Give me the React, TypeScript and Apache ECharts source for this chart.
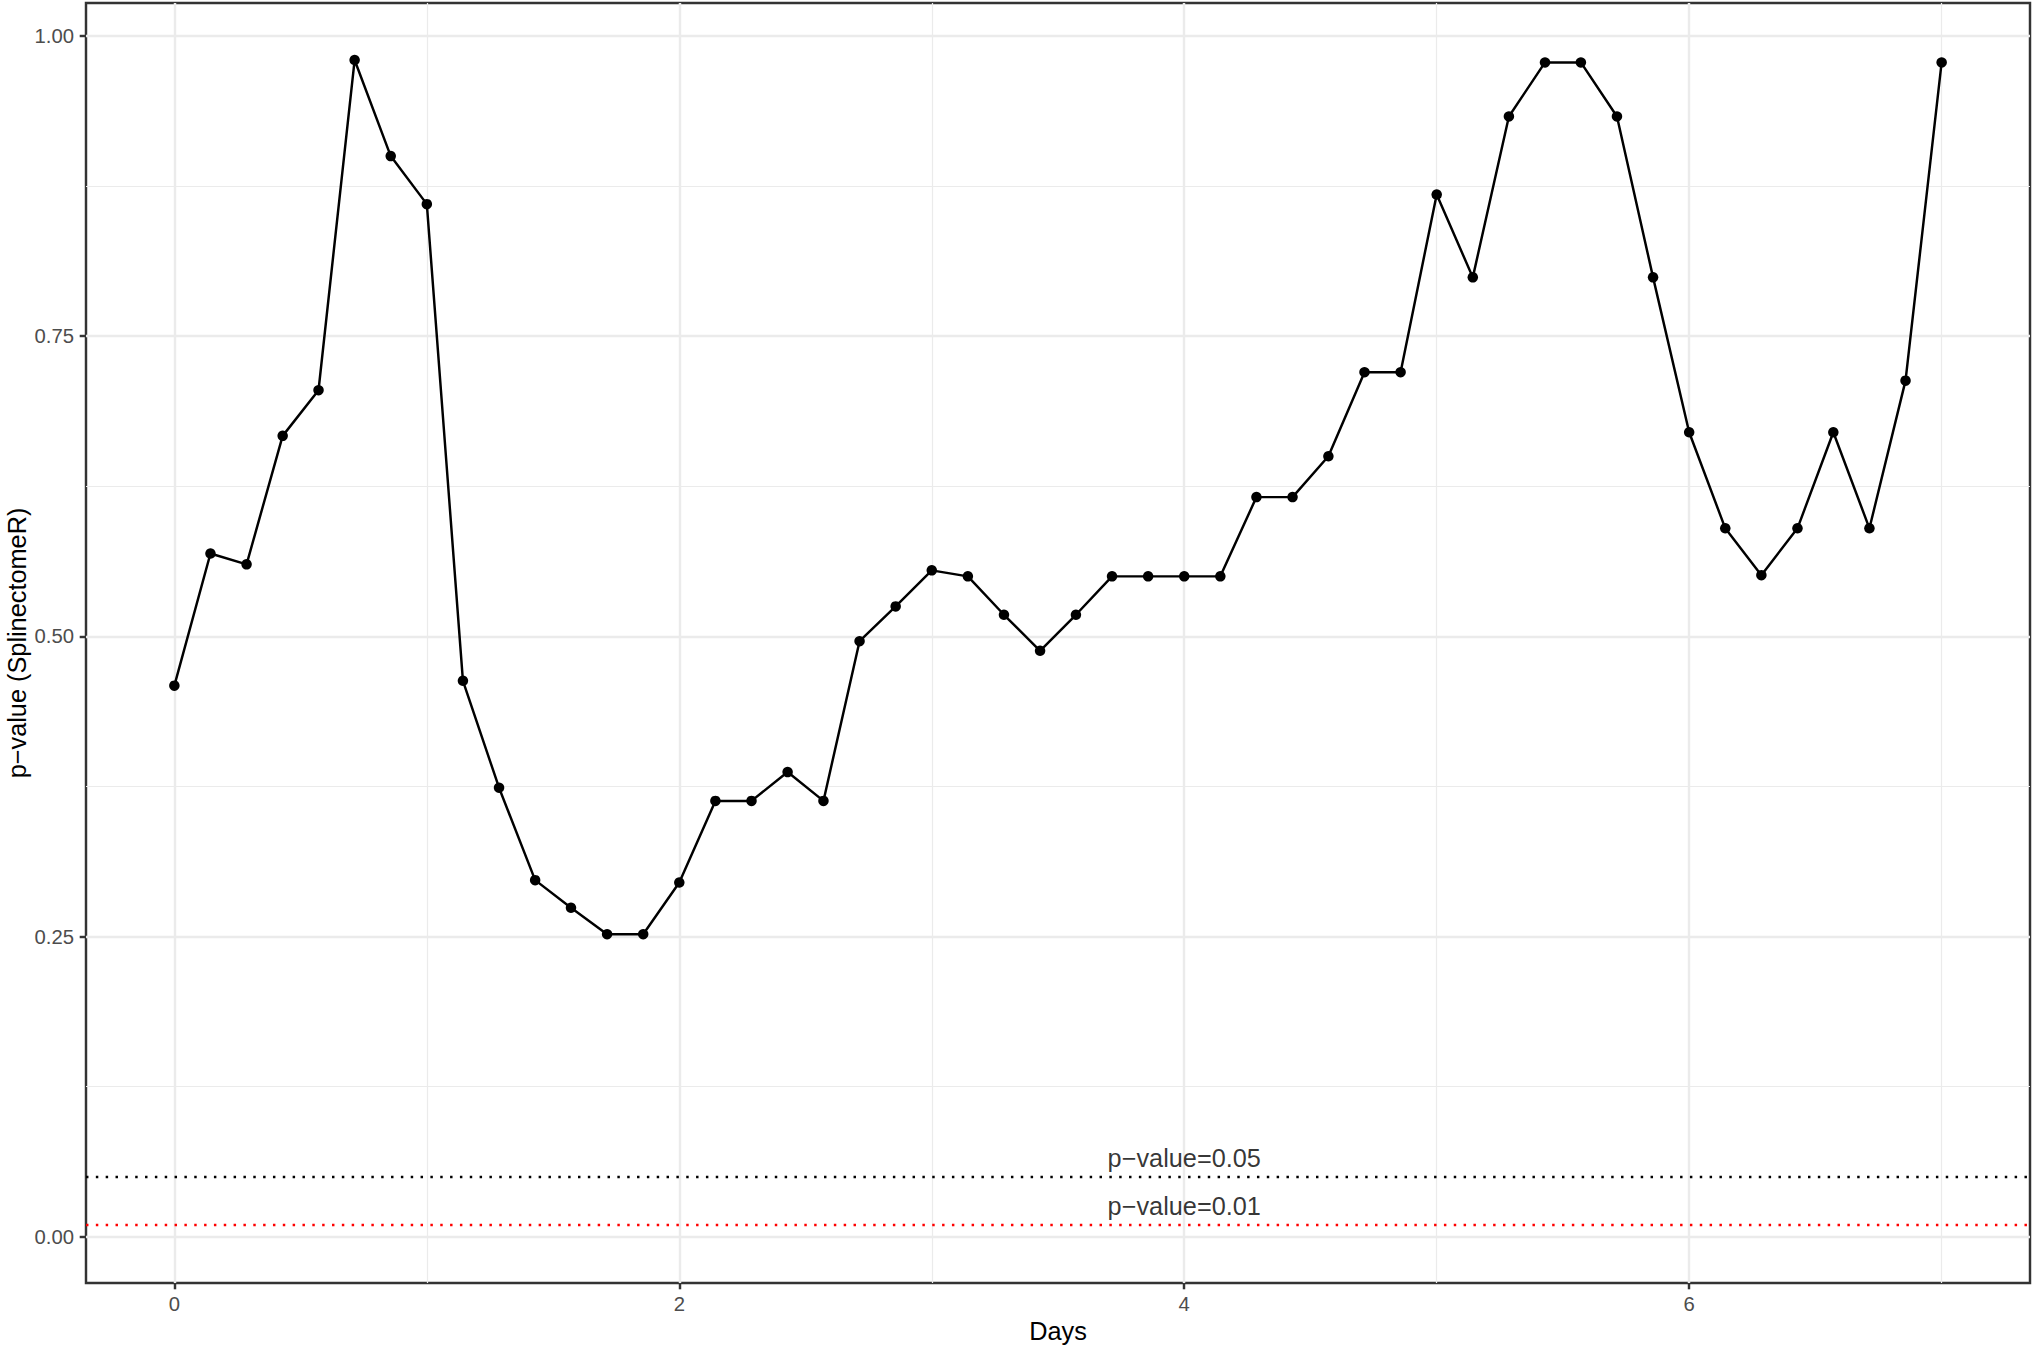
import React, { useEffect, useRef } from "react";
import * as echarts from "echarts";

// ---- data ----
const days: number[] = [
  0, 0.143, 0.286, 0.429, 0.571, 0.714, 0.857,
  1, 1.143, 1.286, 1.429, 1.571, 1.714, 1.857,
  2, 2.143, 2.286, 2.429, 2.571, 2.714, 2.857,
  3, 3.143, 3.286, 3.429, 3.571, 3.714, 3.857,
  4, 4.143, 4.286, 4.429, 4.571, 4.714, 4.857,
  5, 5.143, 5.286, 5.429, 5.571, 5.714, 5.857,
  6, 6.143, 6.286, 6.429, 6.571, 6.714, 6.857,
  7,
];
const pValues: number[] = [
  0.459, 0.569, 0.56, 0.667, 0.705, 0.98, 0.9, 0.86, 0.463, 0.374,
  0.297, 0.274, 0.252, 0.252, 0.295, 0.363, 0.363, 0.387, 0.363, 0.496,
  0.525, 0.555, 0.55, 0.518, 0.488, 0.518, 0.55, 0.55, 0.55, 0.55,
  0.616, 0.616, 0.65, 0.72, 0.72, 0.868, 0.799, 0.933, 0.978, 0.978,
  0.933, 0.799, 0.67, 0.59, 0.551, 0.59, 0.67, 0.59, 0.713, 0.978,
];
const thresholds: number[] = [0.05, 0.01];
const thresholdColors: string[] = ["#000000", "#FF0000"];
const thresholdLabels: string[] = ["p\u2212value=0.05", "p\u2212value=0.01"];
const thresholdLabelDay = 4;

const xMajorTicks: number[] = [0, 2, 4, 6];
const xMinorTicks: number[] = [1, 3, 5, 7];
const yMajorTicks: number[] = [0, 0.25, 0.5, 0.75, 1];
const yMinorTicks: number[] = [0.125, 0.375, 0.625, 0.875];

const xName = "Days";
const yName = "p\u2212value (SplinectomeR)";

const FONT = "'Liberation Sans', Arimo, Helvetica, Arial, sans-serif";
const LW = 2.46;

export default function App() {
  const ref = useRef<HTMLDivElement | null>(null);

  useEffect(() => {
    document.body.style.margin = "0";
    if (!ref.current) return;
    const chart = echarts.init(ref.current, undefined, { renderer: "svg" });

    const xMin = -0.35;
    const xMax = 7.35;
    const yMin = -0.0385;
    const yMax = 1.0275;

    const baseX = {
      type: "value" as const,
      min: xMin,
      max: xMax,
      gridIndex: 0,
    };
    const baseY = {
      type: "value" as const,
      min: yMin,
      max: yMax,
      gridIndex: 0,
    };

    const option: any = {
      animation: false,
      backgroundColor: "#FFFFFF",
      grid: {
        left: 86,
        right: 2,
        top: 3,
        bottom: 64,
        containLabel: false,
        outerBoundsMode: "none",
        show: true,
        backgroundColor: "transparent",
        borderColor: "#333333",
        borderWidth: LW,
      },
      xAxis: [
        {
          ...baseX,
          position: "bottom",
          axisLine: { show: false, onZero: false },
          axisTick: {
            show: true,
            customValues: xMajorTicks,
            length: 6.3,
            lineStyle: { color: "#333333", width: LW },
          },
          axisLabel: {
            show: true,
            customValues: xMajorTicks,
            margin: 11,
            color: "#4D4D4D",
            fontSize: 20.3,
            fontFamily: FONT,
            formatter: (v: number) => String(v),
          },
          splitLine: { show: true, lineStyle: { color: "#EBEBEB", width: LW } },
          name: xName,
          nameLocation: "middle",
          nameGap: 35,
          nameMoveOverlap: false,
          nameTextStyle: { color: "#000000", fontSize: 25.3, fontFamily: FONT },
        },
        {
          ...baseX,
          position: "bottom",
          axisLine: { show: false, onZero: false },
          axisTick: { show: false, customValues: xMinorTicks },
          axisLabel: { show: false, customValues: xMinorTicks },
          splitLine: { show: true, lineStyle: { color: "#EBEBEB", width: LW / 2 } },
        },
      ],
      yAxis: [
        {
          ...baseY,
          position: "left",
          axisLine: { show: false, onZero: false },
          axisTick: {
            show: true,
            customValues: yMajorTicks,
            length: 6.3,
            lineStyle: { color: "#333333", width: LW },
          },
          axisLabel: {
            show: true,
            customValues: yMajorTicks,
            margin: 12,
            color: "#4D4D4D",
            fontSize: 20.3,
            fontFamily: FONT,
            formatter: (v: number) => v.toFixed(2),
          },
          splitLine: { show: true, lineStyle: { color: "#EBEBEB", width: LW } },
          name: yName,
          nameLocation: "middle",
          nameRotate: 90,
          nameGap: 57,
          nameMoveOverlap: false,
          nameTextStyle: { color: "#000000", fontSize: 25.3, fontFamily: FONT },
        },
        {
          ...baseY,
          position: "left",
          axisLine: { show: false, onZero: false },
          axisTick: { show: false, customValues: yMinorTicks },
          axisLabel: { show: false, customValues: yMinorTicks },
          splitLine: { show: true, lineStyle: { color: "#EBEBEB", width: LW / 2 } },
        },
      ],
      series: [
        {
          type: "line",
          xAxisIndex: 0,
          yAxisIndex: 0,
          data: [],
          silent: true,
          z: 3,
          markLine: {
            silent: true,
            symbol: ["none", "none"],
            label: { show: false },
            data: thresholds.map((t, i) => ({
              yAxis: t,
              lineStyle: {
                color: thresholdColors[i],
                width: LW,
                type: [LW, LW * 3],
                cap: "butt",
              },
            })),
          },
        },
        {
          type: "line",
          xAxisIndex: 0,
          yAxisIndex: 0,
          data: days.map((d, i) => [d, pValues[i]]),
          symbol: "circle",
          symbolSize: 10.5,
          showSymbol: true,
          lineStyle: { color: "#000000", width: LW },
          itemStyle: { color: "#000000" },
          z: 5,
        },
        {
          type: "scatter",
          xAxisIndex: 0,
          yAxisIndex: 0,
          data: thresholds.map((t) => [thresholdLabelDay, t]),
          symbolSize: 1,
          itemStyle: { color: "transparent" },
          z: 6,
          label: {
            show: true,
            position: "top",
            distance: 6,
            color: "#000000",
            fontSize: 25.3,
            fontFamily: FONT,
            formatter: (p: any) => thresholdLabels[p.dataIndex],
          },
        },
      ],
    };

    chart.setOption(option);
    return () => {
      chart.dispose();
    };
  }, []);

  return <div ref={ref} style={{ width: 2032, height: 1347 }} />;
}
